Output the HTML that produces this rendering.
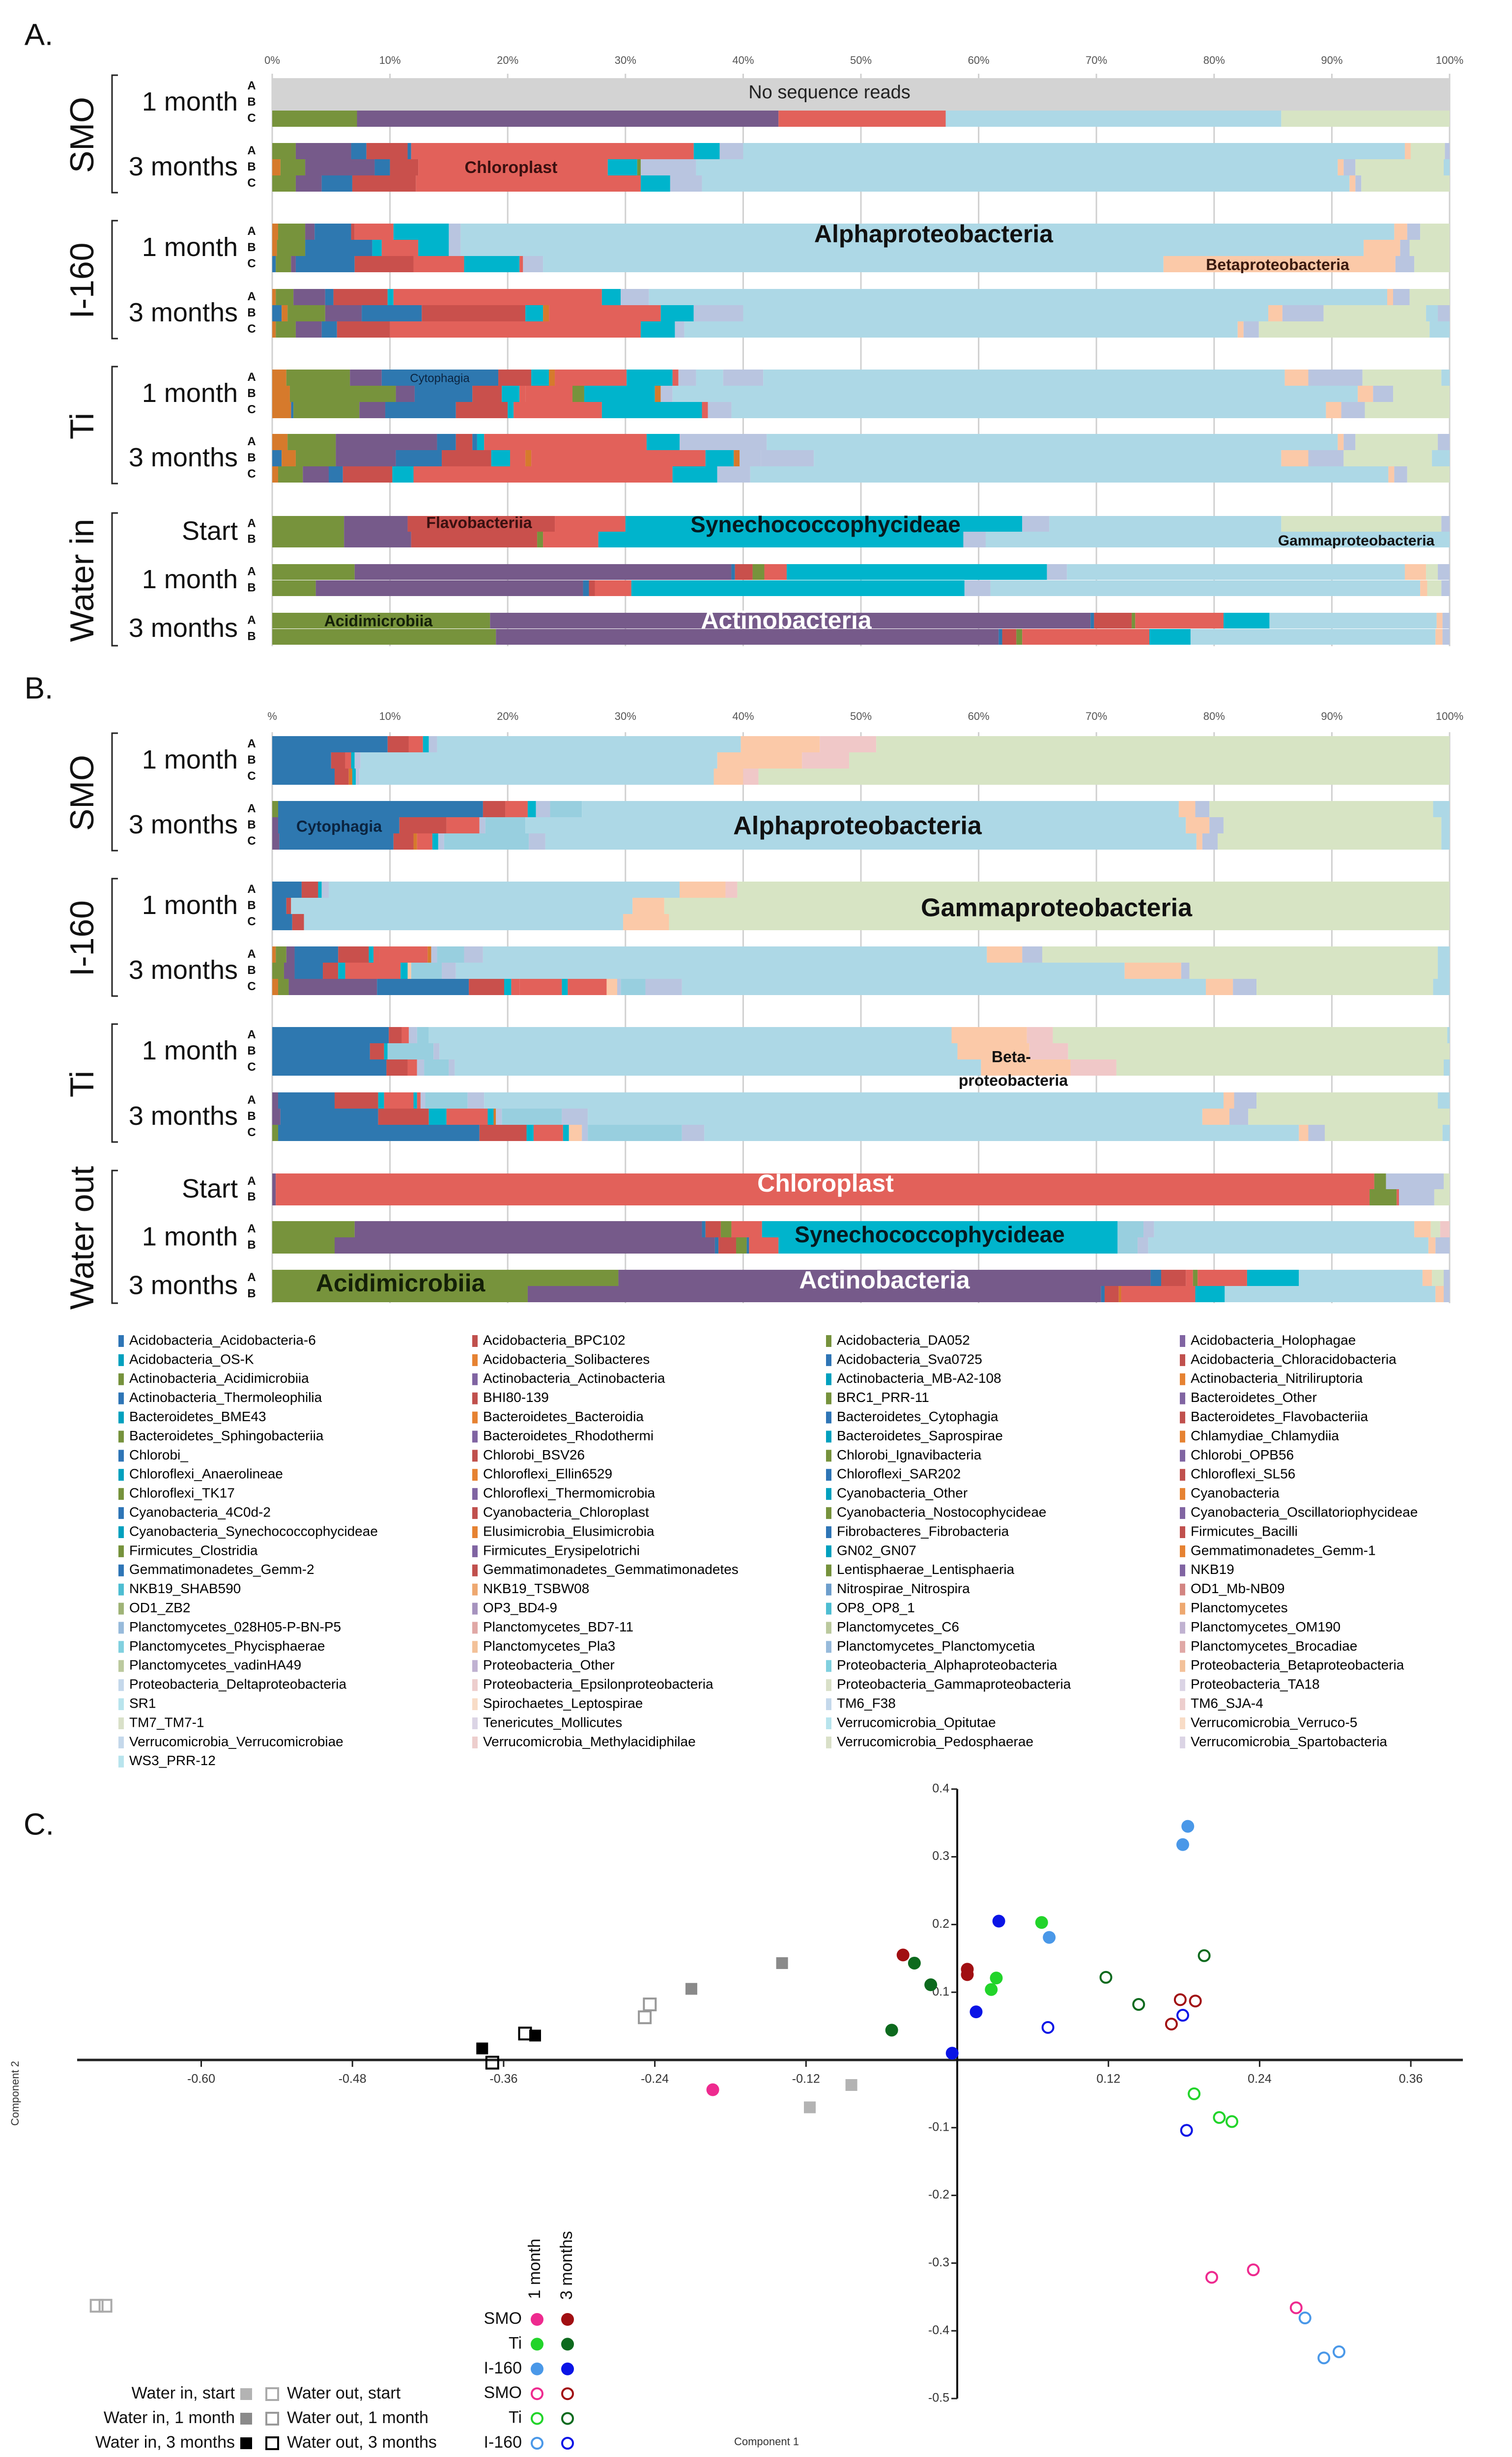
<!DOCTYPE html>
<html><head><meta charset="utf-8">
<style>
html,body{margin:0;padding:0;background:#fff;width:3077px;height:5046px;overflow:hidden;}
svg{display:block;font-family:"Liberation Sans",Arial,sans-serif;}
</style></head>
<body>
<svg id="fig" xmlns="http://www.w3.org/2000/svg" width="3077" height="5046" viewBox="0 0 3077 5046">
<rect width="3077" height="5046" fill="#fff"/>
<g id="panelA"></g>
<g id="panelB"></g>
<g id="legend"></g>
<g id="panelC"></g>
</svg>
<script>
// ---------- color keys ----------
const colorKeys = ['n','g','p','b','r','R','c','L','D','e','v','G','k','o'];
const colorVals = ['#d3d3d3','#77933c','#765a8a','#2e78b0','#e2615a','#c9504c','#00b4cc','#add8e6','#98cfdf','#fbc9a8','#b9c5e0','#d7e4c4','#f0c8c8','#d67a2c'];
// ---------- Panel A data (segment keys and cumulative % ends) ----------
const aKeys = ['n','n','gprLG','gpbRbrcvLeGv','ogpbRrcgvLevGL','gpbRrcvLevG',
 'ogpbRrcvLevG','ogbcrcvLevG','bgpbRrcrvLevG','ogpbRcrcvLevG','bogpbRcorcvLevGLv','ogpbRrcvLevGL',
 'ogpbRcorcrvLvLevGL','ogpbRcrrgcovLevG','obgpbRcrcrvLevG','ogpbRbcrcvLevGv','bogpbRcrorcovvLevGL','ogpbRcrcvLevG',
 'gpRrcvLGv','gpRgrcvL','gpbRgrcvLeGv','gpbRrcvLeGv','gpbRgrcLev','gpbRgrcLev'];
const aEnds = [[100],[100],[7.2,43,57.2,85.7,100],
 [2,6.7,8,11.5,11.8,35.8,38,40,96.2,96.7,99.6,100],
 [0.7,2.8,8.7,10,12.4,28.5,31,31.3,36,90.5,91,92,99.5,100],
 [2,4.2,6.8,12.2,31.3,33.8,36.5,91.5,92,92.5,100],
 [0.5,2.8,3.6,6.7,7,10.3,15,16,95.3,96.4,97.5,100],
 [0.4,2.8,8.5,9.3,12.4,15,16,92.7,95.8,96.6,100],
 [0.3,1.6,2,7,12,16.3,21,21.3,23,75.7,95.4,97,100],
 [0.3,1.8,4.5,5.2,9.8,10.3,28,29.6,32,94.7,95.2,96.6,100],
 [0.8,1.3,4.5,7.6,12.7,21.5,23,23.5,33,35.8,40,84.6,85.8,89.3,98,99,100],
 [0.3,2,4.2,5.5,10,31.3,34.2,35,82,82.5,83.8,98.3,100],
 [1.2,6.6,9.3,19.2,22,23.5,24,30.1,34,34.5,36,38.3,41.7,86,88,92.6,99.3,100],
 [1.5,10.5,12.1,17,19.5,21,21.5,25.5,26.5,32.5,33,34,92.2,93.5,95.2,100],
 [1.6,1.8,7.4,9.6,15.6,20,20.5,28,36.5,37,39,89.5,90.8,92.8,100],
 [1.3,5.4,14,15.6,17,17.4,18,31.8,34.6,42,90.5,91,92,99,100],
 [0.8,2,5.4,10.5,14.4,18.6,20.2,21.5,22,36.8,39.2,39.7,41.5,46,85.7,88,91,98.5,100],
 [0.5,2.6,4.8,6,10.2,12,34,37.8,40.6,94.8,95.3,96.4,100],
 [6.1,11.5,24,30,63.7,66,85.7,99.3,100],
 [6.1,11.8,22.5,23,27.7,58.7,60.6,100],
 [7,39,39.3,40.8,41.8,43.7,65.8,67.5,96.2,98,99,100],
 [3.7,26.4,26.9,27.4,30.5,58.8,61,97.5,98.1,99.3,100],
 [18.5,69.5,69.8,73,73.3,80.8,84.7,98.9,99.4,100],
 [19,61.7,62,63.2,63.7,74.5,78,98.8,99.4,100]];
// ---------- Panel B data ----------
const bKeys = ['bRrcvLekG','bRrcvLekG','bRocvLekG','gbRrcvDLevGL','pbRrvDLevGL','pbRorcvDvLevGL',
 'bRcvLekG','bRLeG','bRLeG','ogpbRcrrovDvLevGL','gpbRcrceDvLevGL','ogpbRcrrcrevDvLevGL',
 'bRrvDLekGL','bRcDvLekG','bRrvDvLekGL','pbRcrcrvDvLevGL','pbRcrcovDvLevG','gbRcrcevDvLevGL',
 'prgvG','prgrvG','gpbRgrcDvLeGk','gpbRgbrcDvLev','gpbRrgrcLeGv','gpbRorcLev'];
const bEnds = [[9.8,11.6,12.8,13.3,14,39.8,46.5,51.3,100],
 [5,6.2,6.7,7,7.5,37.8,45,49,100],
 [5.3,6.5,6.8,7.1,7.4,37.5,40,41.3,100],
 [0.5,17.9,19.8,21.7,22.4,23.6,26.3,77,78.4,79.6,98.6,100],
 [0.5,10.8,14.8,17.6,18.1,21.5,77.6,79.6,80.8,99.3,100],
 [0.6,10.3,12,12.3,13.6,14.1,14.6,21.8,23.2,78.5,79,80.3,99.3,100],
 [2.5,3.9,4.2,4.8,34.6,38.5,39.5,100],
 [1.2,1.6,30.6,33.3,100],
 [1.7,2.7,29.8,33.7,100],
 [0.3,1.2,1.9,5.6,8.2,8.6,9.1,13.2,13.5,14,16.3,17.9,60.7,63.7,65.4,99,100],
 [1,1.9,4.3,5.6,6.2,10.9,11.5,11.8,14.4,15.6,72.4,77.2,77.9,99,100],
 [0.5,1.4,8.9,16.7,19.7,20.3,21,24.6,25.1,28.4,29.3,29.6,31.7,34.8,79.3,81.6,83.6,98.6,100],
 [9.9,11,11.6,12.3,13.3,57.7,64.1,66.3,99.8,100],
 [8.3,9.5,9.8,13.7,14.2,58.2,64.3,67.6,100],
 [9.7,11.5,12.3,12.9,15,15.5,60.2,67.8,71.7,99.5,100],
 [0.5,5.3,9,9.5,12,12.3,12.6,13,16.6,18,80.8,81.7,83.6,99,100],
 [0.7,9,13.3,14.8,18.3,18.8,19,19.5,24.6,26.8,79,81.3,82.9,100],
 [0.5,17.6,21.6,22.2,24.7,25.2,26.3,26.8,34.8,36.7,87.2,88,89.4,99.4,100],
 [0.3,93.6,94.6,99.5,100],
 [0.3,93.2,95.5,95.7,98.7,100],
 [7,36.5,36.8,38.1,39,41.6,71.8,74,74.9,97,98.4,99.2,100],
 [5.3,37.6,37.9,39.4,40.3,40.5,43,71.8,73.5,74.4,98.2,98.8,100],
 [29.4,74.6,75.5,77.6,78.2,78.6,82.8,87.2,97.7,98.5,99.5,100],
 [21.7,70.4,70.7,71.9,72.1,78.4,80.9,98.8,99.5,100]];
const pctTicks = ['0%','10%','20%','30%','40%','50%','60%','70%','80%','90%','100%'];
const pctTicksB = ['%','10%','20%','30%','40%','50%','60%','70%','80%','90%','100%'];
// ---------- Legend ----------
const legendNames = ['Acidobacteria_Acidobacteria-6','Acidobacteria_BPC102','Acidobacteria_DA052','Acidobacteria_Holophagae',
'Acidobacteria_OS-K','Acidobacteria_Solibacteres','Acidobacteria_Sva0725','Acidobacteria_Chloracidobacteria',
'Actinobacteria_Acidimicrobiia','Actinobacteria_Actinobacteria','Actinobacteria_MB-A2-108','Actinobacteria_Nitriliruptoria',
'Actinobacteria_Thermoleophilia','BHI80-139','BRC1_PRR-11','Bacteroidetes_Other',
'Bacteroidetes_BME43','Bacteroidetes_Bacteroidia','Bacteroidetes_Cytophagia','Bacteroidetes_Flavobacteriia',
'Bacteroidetes_Sphingobacteriia','Bacteroidetes_Rhodothermi','Bacteroidetes_Saprospirae','Chlamydiae_Chlamydiia',
'Chlorobi_','Chlorobi_BSV26','Chlorobi_Ignavibacteria','Chlorobi_OPB56',
'Chloroflexi_Anaerolineae','Chloroflexi_Ellin6529','Chloroflexi_SAR202','Chloroflexi_SL56',
'Chloroflexi_TK17','Chloroflexi_Thermomicrobia','Cyanobacteria_Other','Cyanobacteria',
'Cyanobacteria_4C0d-2','Cyanobacteria_Chloroplast','Cyanobacteria_Nostocophycideae','Cyanobacteria_Oscillatoriophycideae',
'Cyanobacteria_Synechococcophycideae','Elusimicrobia_Elusimicrobia','Fibrobacteres_Fibrobacteria','Firmicutes_Bacilli',
'Firmicutes_Clostridia','Firmicutes_Erysipelotrichi','GN02_GN07','Gemmatimonadetes_Gemm-1',
'Gemmatimonadetes_Gemm-2','Gemmatimonadetes_Gemmatimonadetes','Lentisphaerae_Lentisphaeria','NKB19',
'NKB19_SHAB590','NKB19_TSBW08','Nitrospirae_Nitrospira','OD1_Mb-NB09',
'OD1_ZB2','OP3_BD4-9','OP8_OP8_1','Planctomycetes',
'Planctomycetes_028H05-P-BN-P5','Planctomycetes_BD7-11','Planctomycetes_C6','Planctomycetes_OM190',
'Planctomycetes_Phycisphaerae','Planctomycetes_Pla3','Planctomycetes_Planctomycetia','Planctomycetes_Brocadiae',
'Planctomycetes_vadinHA49','Proteobacteria_Other','Proteobacteria_Alphaproteobacteria','Proteobacteria_Betaproteobacteria',
'Proteobacteria_Deltaproteobacteria','Proteobacteria_Epsilonproteobacteria','Proteobacteria_Gammaproteobacteria','Proteobacteria_TA18',
'SR1','Spirochaetes_Leptospirae','TM6_F38','TM6_SJA-4',
'TM7_TM7-1','Tenericutes_Mollicutes','Verrucomicrobia_Opitutae','Verrucomicrobia_Verruco-5',
'Verrucomicrobia_Verrucomicrobiae','Verrucomicrobia_Methylacidiphilae','Verrucomicrobia_Pedosphaerae','Verrucomicrobia_Spartobacteria',
'WS3_PRR-12'];
// ---------- Panel C data ----------
const pcaGroups = ['SMO 1m','SMO 3m','Ti 1m','Ti 3m','I-160 1m','I-160 3m','SMO out 1m','SMO out 3m','Ti out 1m','Ti out 3m','I-160 out 1m','I-160 out 3m',
 'Water in start','Water in 1m','Water in 3m','Water out start','Water out 1m','Water out 3m'];
const pcaX = [[-0.194],[-0.043,0.008,0.008],[0.067,0.031,0.027],[-0.034,-0.021,-0.052],[0.183,0.179,0.073],[0.033,0.015,-0.004],
 [0.202,0.235,0.269],[0.177,0.189,0.170],[0.188,0.208,0.218],[0.118,0.144,0.196],[0.276,0.291,0.303],[0.072,0.179,0.182],
 [-0.084,-0.117],[-0.139,-0.211],[-0.335,-0.377],[-0.683,-0.676],[-0.244,-0.248],[-0.343,-0.369]];
const pcaY = [[-0.044],[0.155,0.134,0.126],[0.203,0.121,0.104],[0.143,0.111,0.044],[0.345,0.318,0.181],[0.205,0.071,0.010],
 [-0.321,-0.310,-0.366],[0.089,0.087,0.053],[-0.050,-0.085,-0.091],[0.122,0.082,0.154],[-0.381,-0.440,-0.431],[0.048,0.066,-0.104],
 [-0.037,-0.070],[0.143,0.105],[0.036,0.017],[-0.363,-0.363],[0.082,0.063],[0.039,-0.004]];
const xTickVals = [-0.60,-0.48,-0.36,-0.24,-0.12,0.12,0.24,0.36];
const yTickVals = [0.4,0.3,0.2,0.1,-0.1,-0.2,-0.3,-0.4,-0.5];

const NS='http://www.w3.org/2000/svg';
function mk(parent, tag, attrs, text){
  const e=document.createElementNS(NS,tag);
  for(const k in attrs) e.setAttribute(k,attrs[k]);
  if(text!==undefined) e.textContent=text;
  parent.appendChild(e); return e;
}
function col(k){return colorVals[colorKeys.indexOf(k)];}

// ---------- bar panel ----------
const X0=554, X1=2950;
function px(v){return X0+(X1-X0)*v/100;}
function drawBarPanel(g, keys, ends, tops, hts, tickY, ticks, gridTop, gridBot){
  for(let i=0;i<=10;i++){
    const x=px(i*10);
    const gl=mk(g,'line',{x1:x,x2:x,y1:gridTop,y2:gridBot,stroke:'#d0d0d0','stroke-width':3});
    
    
    const t=mk(g,'text',{x:x,y:tickY,'font-size':22,'text-anchor':'middle',fill:'#555'},ticks[i]);
    
    
  }
  for(let i=0;i<keys.length;i++){
    let prev=0;
    for(let j=0;j<ends[i].length;j++){
      const e=ends[i][j];
      const r=mk(g,'rect',{x:px(prev),y:tops[i],width:Math.max(0,px(e)-px(prev)),height:hts[i],fill:col(keys[i][j])});
      
      
      prev=e;
    }
  }
}
function label(g,x,y,txt,size,opts){
  opts=opts||{};
  const t=mk(g,'text',{x:x,y:y,'font-size':size,'text-anchor':opts.anchor||'middle',fill:opts.fill||'#111','font-weight':opts.bold?'bold':'normal','dominant-baseline':'middle'},txt);
  if(opts.rot) t.setAttribute('transform','rotate(-90 '+x+' '+y+')');
  
  
  return t;
}
function bracket(g,x,y1,y2){
  const p=mk(g,'path',{d:'M'+(x+12)+' '+y1+' H'+x+' V'+y2+' H'+(x+12),fill:'none',stroke:'#222','stroke-width':3});
  
  
}
function subLetters(g,tops,hts,idx,letters){
  letters.forEach((L,k)=>{label(g,512,tops[idx+k]+hts[idx+k]/2,L,24,{bold:true,name:'replicate-letter'});});
}

// Panel A layout
const aTops=[159,192,225,291,324,357,455,488,521,588,621,654,752,785,818,883,916,949,1050,1082,1148,1181,1247,1280];
const aHts=aTops.map((t,i)=>i>=18?32:33);
const gA=document.getElementById('panelA');
label(gA,79,75,'A.',62,{name:'panel-a-letter'});
drawBarPanel(gA,aKeys,aEnds,aTops,aHts,130,pctTicks,150,1315);
// Panel B layout
const bTops=[1498,1531,1564,1630,1663,1696,1794,1827,1860,1926,1959,1992,2090,2123,2156,2223,2256,2289,2388,2420,2485,2518,2584,2617];
const bHts=bTops.map(()=>33);
const gB=document.getElementById('panelB');
label(gB,79,1405,'B.',62,{name:'panel-b-letter'});
drawBarPanel(gB,bKeys,bEnds,bTops,bHts,1465,pctTicksB,1490,2652);

function groupLabels(g,tops,hts,groups,sub){
  groups.forEach(gr=>{
    const y1=tops[gr.s], y2=tops[gr.e]+hts[gr.e];
    bracket(g,228,y1-6,y2+2);
    label(g,172,(y1+y2)/2,gr.name,68,{rot:true,name:'group-label'});
  });
  sub.forEach(s=>{
    const y1=tops[s.s], y2=tops[s.s+s.n-1]+hts[s.s+s.n-1];
    label(g,484,(y1+y2)/2+2,s.name,54,{anchor:'end',name:'timepoint-label'});
    subLetters(g,tops,hts,s.s,['A','B','C'].slice(0,s.n));
  });
}
groupLabels(gA,aTops,aHts,[{name:'SMO',s:0,e:5},{name:'I-160',s:6,e:11},{name:'Ti',s:12,e:17},{name:'Water in',s:18,e:23}],
 [{name:'1 month',s:0,n:3},{name:'3 months',s:3,n:3},{name:'1 month',s:6,n:3},{name:'3 months',s:9,n:3},{name:'1 month',s:12,n:3},{name:'3 months',s:15,n:3},{name:'Start',s:18,n:2},{name:'1 month',s:20,n:2},{name:'3 months',s:22,n:2}]);
groupLabels(gB,bTops,bHts,[{name:'SMO',s:0,e:5},{name:'I-160',s:6,e:11},{name:'Ti',s:12,e:17},{name:'Water out',s:18,e:23}],
 [{name:'1 month',s:0,n:3},{name:'3 months',s:3,n:3},{name:'1 month',s:6,n:3},{name:'3 months',s:9,n:3},{name:'1 month',s:12,n:3},{name:'3 months',s:15,n:3},{name:'Start',s:18,n:2},{name:'1 month',s:20,n:2},{name:'3 months',s:22,n:2}]);

// overlay annotations
label(gA,1688,190,'No sequence reads',38,{name:'no-reads-label',fill:'#222'});
label(gA,1040,343,'Chloroplast',34,{bold:true,name:'chloroplast-label',fill:'#3a1010'});
label(gA,1900,480,'Alphaproteobacteria',50,{bold:true,name:'alpha-label'});
label(gA,2600,541,'Betaproteobacteria',32,{bold:true,name:'beta-label',fill:'#3a1a10'});
label(gA,895,771,'Cytophagia',24,{name:'cytophagia-label',fill:'#0b2440'});
label(gA,975,1066,'Flavobacteriia',32,{bold:true,name:'flavo-label',fill:'#3a1010'});
label(gA,1680,1071,'Synechococcophycideae',46,{bold:true,name:'synecho-label',fill:'#061a20'});
label(gA,2760,1102,'Gammaproteobacteria',30,{bold:true,name:'gamma-label'});
label(gA,770,1266,'Acidimicrobiia',32,{bold:true,name:'acidimicrobiia-label',fill:'#142008'});
label(gA,1600,1266,'Actinobacteria',50,{bold:true,name:'actino-label',fill:'#fff'});
label(gB,690,1684,'Cytophagia',32,{bold:true,name:'cytophagia-label',fill:'#0b2440'});
label(gB,1745,1684,'Alphaproteobacteria',52,{bold:true,name:'alpha-label'});
label(gB,2150,1851,'Gammaproteobacteria',52,{bold:true,name:'gamma-label'});
label(gB,2058,2153,'Beta-',32,{bold:true,name:'beta-label'});
label(gB,2062,2201,'proteobacteria',32,{bold:true,name:'beta-label-2'});
label(gB,1680,2412,'Chloroplast',50,{bold:true,name:'chloroplast-label',fill:'#fff'});
label(gB,1892,2516,'Synechococcophycideae',46,{bold:true,name:'synecho-label',fill:'#061a20'});
label(gB,815,2615,'Acidimicrobiia',50,{bold:true,name:'acidimicrobiia-label',fill:'#142008'});
label(gB,1800,2609,'Actinobacteria',50,{bold:true,name:'actino-label',fill:'#fff'});

// ---------- legend ----------
const pal=[[46,117,182],[192,80,77],[118,146,60],[128,100,162],[0,160,190],[230,130,50]];
const gL=document.getElementById('legend');
legendNames.forEach((nm,i)=>{
  const c=i%4, r=Math.floor(i/4);
  const base=pal[i%6];
  const t=i<52?0:(i<60?0.3:(i<72?0.5:0.72));
  const rgb=base.map(v=>Math.round(v+(255-v)*t));
  const x=241+c*720, y=2729+r*38.9;
  const s=mk(gL,'rect',{x:x,y:y-12,width:11,height:24,fill:'rgb('+rgb.join(',')+')'});
  
  
  const tx=mk(gL,'text',{x:x+22,y:y,'font-size':28,'dominant-baseline':'middle',fill:'#000'},nm);
  
  
});

// ---------- Panel C ----------
const gC=document.getElementById('panelC');
const CX0=1948, CY0=4192;
function sx(v){return CX0+v/0.12*307.7;}
function sy(v){return CY0-v/0.1*137.8;}
label(gC,79,3717,'C.',62,{name:'panel-c-letter'});
const xa=mk(gC,'line',{x1:157,x2:2977,y1:CY0,y2:CY0,stroke:'#222','stroke-width':5});
 
const ya=mk(gC,'line',{x1:CX0,x2:CX0,y1:sy(0.4),y2:sy(-0.5),stroke:'#111','stroke-width':4});
 
xTickVals.forEach(v=>{
  const x=sx(v);
  const tk=mk(gC,'line',{x1:x,x2:x,y1:CY0,y2:CY0+14,stroke:'#222','stroke-width':3});
   
  label(gC,x,CY0+40,v.toFixed(2),25,{name:'x-tick-label',fill:'#333'});
});
yTickVals.forEach(v=>{
  const y=sy(v);
  const tk=mk(gC,'line',{x1:CX0-12,x2:CX0,y1:y,y2:y,stroke:'#222','stroke-width':3});
   
  label(gC,CX0-16,y,String(v),25,{anchor:'end',name:'y-tick-label',fill:'#333'});
});
label(gC,32,4260,'Component 2',22,{rot:true,name:'y-axis-title',fill:'#333'});
label(gC,1560,4970,'Component 1',22,{name:'x-axis-title',fill:'#333'});
const grpColor=['#ee2a8f','#a10f12','#22d42a','#0d6a1e','#4a98e8','#0a14e6','#ee2a8f','#a10f12','#22d42a','#0d6a1e','#4a98e8','#0a14e6','#b3b3b3','#8a8a8a','#000','#aaa','#999','#000'];
const grpFilled=[1,1,1,1,1,1,0,0,0,0,0,0,1,1,1,0,0,0];
const grpSquare=[0,0,0,0,0,0,0,0,0,0,0,0,1,1,1,1,1,1];
function marker(g,x,y,i,name){
  let m;
  const c=grpColor[i];
  if(grpSquare[i]){
    m=mk(g,'rect',{x:x-12,y:y-12,width:24,height:24,fill:grpFilled[i]?c:'none',stroke:c,'stroke-width':grpFilled[i]?0:4});
  } else {
    m=mk(g,'circle',{cx:x,cy:y,r:grpFilled[i]?13:11,fill:grpFilled[i]?c:'none',stroke:c,'stroke-width':grpFilled[i]?0:4});
  }
  
  
  return m;
}
pcaX.forEach((xs,i)=>{xs.forEach((xv,j)=>{marker(gC,sx(xv),sy(pcaY[i][j]),i,'pca-point');});});
label(gC,1090,4617,'1 month',34,{rot:true,name:'legend-1-month'});
label(gC,1155,4610,'3 months',34,{rot:true,name:'legend-3-months'});
const cRows=['SMO','Ti','I-160','SMO','Ti','I-160'];
cRows.forEach((nm,k)=>{
  const y=4720+k*50.4;
  label(gC,1062,y,nm,34,{anchor:'end',name:'legend-row-label'});
  marker(gC,1093,y,k<3?[0,2,4][k]:[6,8,10][k-3],'legend-marker');
  marker(gC,1155,y,k<3?[1,3,5][k]:[7,9,11][k-3],'legend-marker');
});
const wIn=['Water in, start','Water in, 1 month','Water in, 3 months'];
const wOut=['Water out, start','Water out, 1 month','Water out, 3 months'];
wIn.forEach((nm,k)=>{
  const y=4872+k*50;
  label(gC,478,y,nm,34,{anchor:'end',name:'legend-water-in'});
  marker(gC,501,y,12+k,'legend-marker');
  marker(gC,554,y,15+k,'legend-marker');
  label(gC,584,y,wOut[k],34,{anchor:'start',name:'legend-water-out'});
});
</script>
</body></html>
